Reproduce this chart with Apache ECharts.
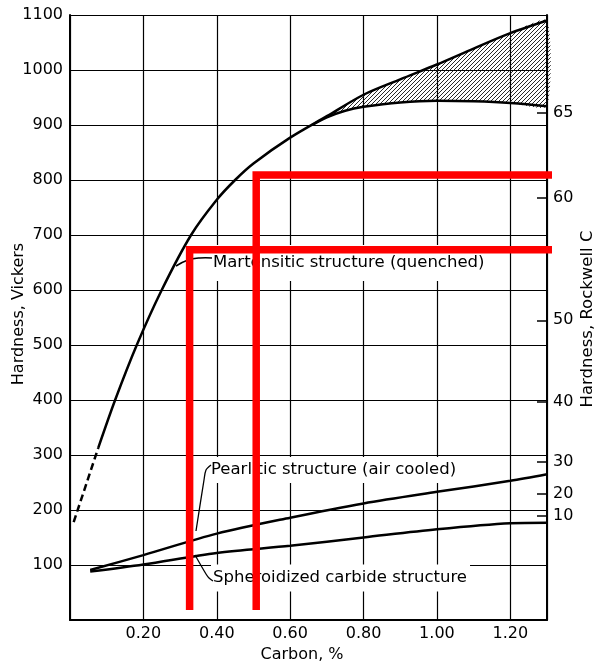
<!DOCTYPE html>
<html><head><meta charset="utf-8">
<script src="https://cdn.jsdelivr.net/npm/echarts@6/dist/echarts.min.js"></script>
<style>html,body{margin:0;padding:0;background:#fff}#c{width:595px;height:664px}</style>
</head><body><div id="c"></div>
<script>
// ---- data ----
const martDashX = [0.01, 0.077];
const martDashY = [178, 313];
const martX = [0.077, 0.123, 0.182, 0.25, 0.33, 0.40, 0.45, 0.50, 0.60, 0.70, 0.80, 0.90, 1.00, 1.10, 1.20, 1.30];
const martY = [313, 400, 500, 600, 700, 764, 800, 830, 877, 916, 955, 983, 1010, 1039, 1067, 1090];
const hatchX = [0.66, 0.70, 0.75, 0.80, 0.90, 1.00, 1.10, 1.20, 1.30];
const hatchUpper = [900, 916, 936, 955, 983, 1010, 1039, 1067, 1090];
const hatchLower = [900, 914, 926, 933, 941, 944, 943, 940, 934];
const pearlX = [0.055, 0.20, 0.40, 0.60, 0.80, 1.00, 1.20, 1.30];
const pearlY = [91, 118, 157, 186, 212, 233, 253, 265];
const spherX = [0.055, 0.20, 0.40, 0.60, 0.80, 1.00, 1.20, 1.30];
const spherY = [88, 101, 122, 135, 150, 165, 176, 177];
const rcLabels = ['65', '60', '50', '40', '30', '20', '10'];
const rcVickers = [922, 767, 545, 397, 288, 229, 189];
const red1X = [0.326, 0.326, 1.332];
const red1Y = [18, 673, 673];
const red2X = [0.5075, 0.5075, 1.332];
const red2Y = [18, 809, 809];
const labelMart = 'Martensitic structure (quenched)';
const labelPearl = 'Pearlitic structure (air cooled)';
const labelSpher = 'Spheroidized carbide structure';

function pairs(xs, ys) { return xs.map((x, i) => [x, ys[i]]); }
const FF = '"DejaVu Sans", sans-serif';

const pat = document.createElement('canvas');
pat.width = 4; pat.height = 4;
const g = pat.getContext('2d');
g.strokeStyle = '#111'; g.lineWidth = 0.9;
g.beginPath();
g.moveTo(0, 4); g.lineTo(4, 0);
g.moveTo(-1, 1); g.lineTo(1, -1);
g.moveTo(3, 5); g.lineTo(5, 3);
g.stroke();

const chart = echarts.init(document.getElementById('c'), null, { renderer: 'canvas' });
const blk = { color: '#000', width: 2.5 };
const option = {
  animation: false,
  grid: { left: 70, right: 48, top: 15, bottom: 44 },
  xAxis: {
    type: 'value', min: 0, max: 1.3, interval: 0.2,
    axisLine: { lineStyle: { color: '#000', width: 2 } },
    axisTick: { show: false },
    splitLine: { lineStyle: { color: '#000', width: 1.2 } },
    axisLabel: { formatter: v => v.toFixed(2), color: '#000', fontSize: 16, fontFamily: FF, margin: 6, showMinLabel: false, showMaxLabel: false }
  },
  yAxis: [{
    type: 'value', min: 0, max: 1100, interval: 100,
    axisLine: { show: true, lineStyle: { color: '#000', width: 2 } },
    axisTick: { show: false },
    splitLine: { lineStyle: { color: '#000', width: 1.2 } },
    axisLabel: { formatter: v => String(v), color: '#000', fontSize: 16, fontFamily: FF, margin: 7, showMinLabel: false }
  }, {
    type: 'value', position: 'right', min: 0, max: 1100,
    axisLine: { show: true, lineStyle: { color: '#000', width: 2 } },
    splitLine: { show: false },
    axisTick: { show: true, inside: true, length: 10, customValues: rcVickers, lineStyle: { color: '#000', width: 1.5 } },
    axisLabel: { customValues: rcVickers, color: '#000', fontSize: 16, fontFamily: FF, margin: 6,
      formatter: v => { const i = rcVickers.indexOf(v); return i >= 0 ? rcLabels[i] : ''; } }
  }],
  series: [
    { type: 'line', data: pairs(martDashX, martDashY), showSymbol: false, lineStyle: { color: '#000', width: 2.5, type: [7, 4] } },
    { type: 'line', data: pairs(martX, martY), smooth: 0.3, showSymbol: false, lineStyle: blk },
    { type: 'line', data: pairs(hatchX, hatchLower), smooth: 0.4, showSymbol: false, lineStyle: blk },
    { type: 'line', data: pairs(pearlX, pearlY), smooth: 0.3, showSymbol: false, lineStyle: blk },
    { type: 'line', data: pairs(spherX, spherY), smooth: 0.3, showSymbol: false, lineStyle: blk },
    { type: 'custom', z: 1, data: [[0, 0]],
      renderItem: (params, api) => {
        const pts = pairs(hatchX, hatchUpper).concat(pairs(hatchX, hatchLower).reverse()).map(p => api.coord(p));
        return { type: 'polygon', shape: { points: pts, smooth: 0.2 }, style: { fill: { image: pat, repeat: 'repeat' }, stroke: null } };
      } },
    { type: 'line', z: 10, clip: false, data: pairs(red1X, red1Y), showSymbol: false, lineStyle: { color: '#ff0000', width: 7.5, cap: 'butt', join: 'miter' } },
    { type: 'line', z: 10, clip: false, data: pairs(red2X, red2Y), showSymbol: false, lineStyle: { color: '#ff0000', width: 7.5, cap: 'butt', join: 'miter' } }
  ],
  graphic: [
    { type: 'text', z: 5, x: 211, y: 263, style: { text: labelMart, fill: '#000', fontSize: 16.5, fontFamily: FF, verticalAlign: 'middle', backgroundColor: '#fff', padding: [13, 3, 6, 2] } },
    { type: 'text', z: 5, x: 209, y: 470, style: { text: labelPearl, fill: '#000', fontSize: 16.5, fontFamily: FF, verticalAlign: 'middle', backgroundColor: '#fff', padding: [5, 3, 4, 2] } },
    { type: 'text', z: 5, x: 211, y: 578, style: { text: labelSpher, fill: '#000', fontSize: 16.5, fontFamily: FF, verticalAlign: 'middle', backgroundColor: '#fff', padding: [4, 3, 6, 2] } },
    { type: 'polyline', z: 6, shape: { points: [[176, 266], [188, 260], [200, 258], [212, 258]], smooth: 0.4 }, style: { stroke: '#000', lineWidth: 1.5, fill: null } },
    { type: 'polyline', z: 6, shape: { points: [[196, 531], [204, 480], [206, 470], [211, 465]], smooth: 0.3 }, style: { stroke: '#000', lineWidth: 1.3, fill: null } },
    { type: 'polyline', z: 6, shape: { points: [[195, 555], [206, 574], [209, 578], [213, 581]], smooth: 0.3 }, style: { stroke: '#000', lineWidth: 1.3, fill: null } },
    { type: 'text', z: 5, x: 19, y: 314, rotation: Math.PI / 2, style: { text: 'Hardness, Vickers', fill: '#000', fontSize: 16, fontFamily: FF, align: 'center', verticalAlign: 'middle' } },
    { type: 'text', z: 5, x: 588, y: 319, rotation: Math.PI / 2, style: { text: 'Hardness, Rockwell C', fill: '#000', fontSize: 16.5, fontFamily: FF, align: 'center', verticalAlign: 'middle' } },
    { type: 'text', z: 5, x: 302, y: 655, style: { text: 'Carbon, %', fill: '#000', fontSize: 16, fontFamily: FF, align: 'center', verticalAlign: 'middle' } }
  ]
};
chart.setOption(option);
</script>
</body></html>
